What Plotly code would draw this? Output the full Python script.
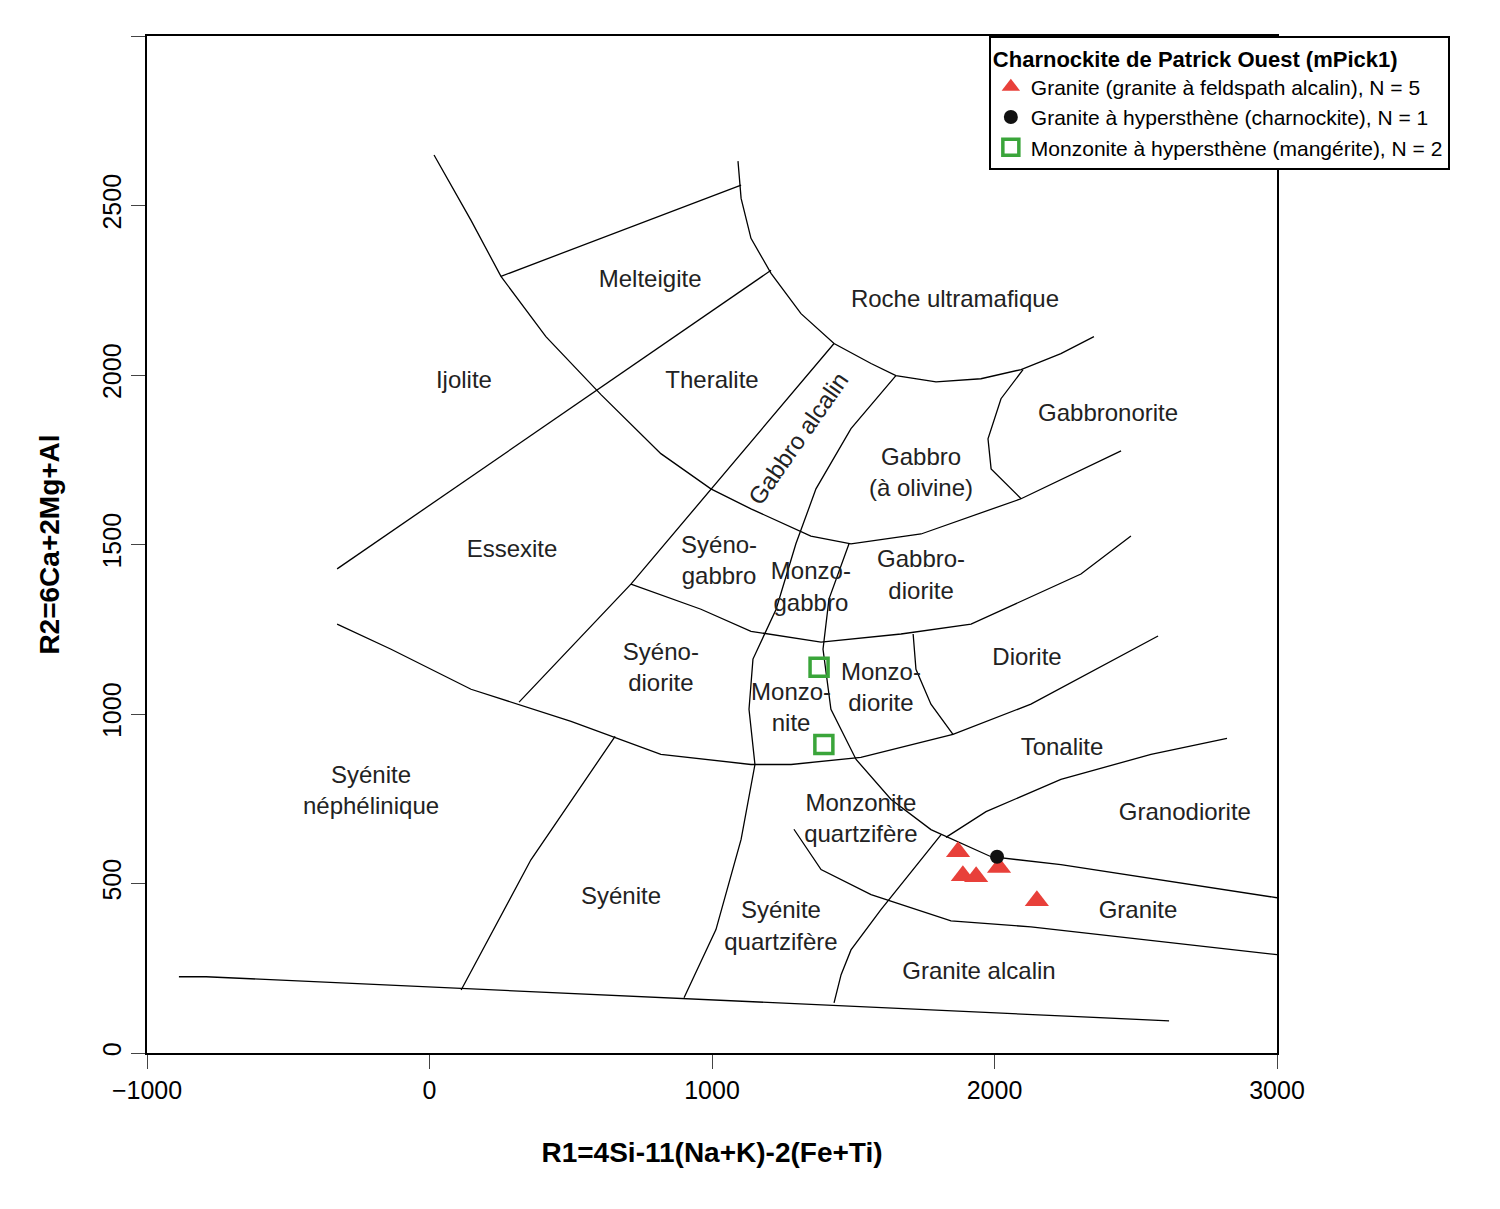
import plotly.graph_objects as go

# field boundaries (R1, R2)
boundaries = [
    ([-887, -791, 2618], [225, 225, 95]),
    ([16, 147, 253, 412, 607, 819, 996, 1138, 1350, 1492, 1740, 2094, 2448],
     [2649, 2456, 2291, 2113, 1942, 1768, 1664, 1605, 1525, 1502, 1531, 1635, 1776]),
    ([1092, 1103, 1138, 1209, 1315, 1432, 1563, 1651, 1793, 1952, 2094, 2235, 2352],
     [2631, 2521, 2403, 2300, 2181, 2093, 2034, 1998, 1980, 1989, 2016, 2063, 2113]),
    ([253, 1103], [2291, 2560]),
    ([-327, 1209], [1428, 2309]),
    ([1432, 713, 317], [2093, 1383, 1035]),
    ([1651, 1492, 1368, 1297, 1227, 1145, 1131, 1152, 1103, 1014, 901],
     [1998, 1842, 1664, 1502, 1309, 1162, 1014, 851, 630, 364, 163]),
    ([713, 961, 1138, 1386, 1669, 1917, 2306, 2483],
     [1383, 1309, 1244, 1212, 1236, 1265, 1413, 1525]),
    ([1485, 1414, 1393, 1421, 1510, 1634, 1775, 1988, 2235, 3000],
     [1502, 1339, 1191, 1014, 866, 748, 659, 579, 556, 458]),
    ([1712, 1722, 1775, 1853], [1236, 1132, 1029, 940]),
    ([-327, -136, 147, 501, 819, 1138, 1280, 1527, 1853, 2129, 2579],
     [1265, 1191, 1073, 978, 881, 851, 851, 872, 940, 1029, 1230]),
    ([1828, 1970, 2235, 2554, 2823], [636, 712, 807, 881, 928]),
    ([657, 359, 112], [934, 570, 186]),
    ([1290, 1386, 1563, 1846, 2129, 3000], [660, 541, 467, 390, 372, 290]),
    ([1811, 1598, 1492, 1457, 1432], [644, 423, 304, 231, 148]),
    ([2101, 2023, 1977, 1988, 2094], [2016, 1930, 1812, 1723, 1635]),
]

field_names = ["Melteigite", "Roche ultramafique", "Ijolite", "Theralite", "Gabbronorite",
               "Gabbro<br>(à olivine)", "Essexite", "Syéno-<br>gabbro", "Monzo-<br>gabbro",
               "Gabbro-<br>diorite", "Diorite", "Syéno-<br>diorite", "Monzo-<br>nite",
               "Monzo-<br>diorite", "Tonalite", "Syénite<br>néphélinique",
               "Monzonite<br>quartzifère", "Granodiorite", "Syénite", "Syénite<br>quartzifère",
               "Granite", "Granite alcalin"]
field_x = [781, 1860, 122, 1000, 2402, 1740, 292, 1025, 1350, 1740, 2115, 819, 1280,
           1598, 2239, -207, 1527, 2674, 678, 1244, 2508, 1945]
field_y = [2276, 2217, 1980, 1980, 1883, 1706, 1481, 1448, 1369, 1404, 1162, 1132, 1014,
           1073, 896, 769, 686, 706, 458, 369, 417, 236]

granite_r1 = [1871, 1888, 1935, 2016, 2150]
granite_r2 = [594, 523, 520, 547, 449]
charno_r1 = [2009]
charno_r2 = [579]
mang_r1 = [1379, 1396]
mang_r2 = [1138, 910]

fig = go.Figure()
for bx, by in boundaries:
    fig.add_trace(go.Scatter(x=bx, y=by, mode="lines", line=dict(color="black", width=1.3),
                             showlegend=False, hoverinfo="skip"))

fig.add_trace(go.Scatter(x=field_x, y=field_y, mode="text", text=field_names,
                         textfont=dict(size=24, color="#222"), showlegend=False))
fig.add_annotation(x=1305, y=1812, text="Gabbro alcalin", textangle=-55, showarrow=False,
                   font=dict(size=24, color="#222"))

fig.add_trace(go.Scatter(x=granite_r1, y=granite_r2, mode="markers",
                         name="Granite (granite à feldspath alcalin), N = 5",
                         marker=dict(symbol="triangle-up", size=21, color="#e8403a")))
fig.add_trace(go.Scatter(x=charno_r1, y=charno_r2, mode="markers",
                         name="Granite à hypersthène (charnockite), N = 1",
                         marker=dict(symbol="circle", size=14, color="#111")))
fig.add_trace(go.Scatter(x=mang_r1, y=mang_r2, mode="markers",
                         name="Monzonite à hypersthène (mangérite), N = 2",
                         marker=dict(symbol="square-open", size=18, color="#3aa53a",
                                     line=dict(width=3.5))))

fig.update_layout(
    width=1500, height=1209,
    paper_bgcolor="white", plot_bgcolor="white",
    margin=dict(l=139, r=231, t=28, b=164),
    font=dict(family="Liberation Sans, Arial", size=25, color="black"),
    xaxis=dict(range=[-1000, 3000], tickvals=[-1000, 0, 1000, 2000, 3000],
               showgrid=False, zeroline=False, showline=True, mirror=True,
               linecolor="black", linewidth=1.5, ticks="outside", ticklen=14,
               title=dict(text="<b>R1=4Si-11(Na+K)-2(Fe+Ti)</b>", standoff=40,
                          font=dict(size=28))),
    yaxis=dict(range=[0, 3000], tickvals=[0, 500, 1000, 1500, 2000, 2500, 3000],
               tickangle=-90,
               showgrid=False, zeroline=False, showline=True, mirror=True,
               linecolor="black", linewidth=1.5, ticks="outside", ticklen=14,
               title=dict(text="<b>R2=6Ca+2Mg+Al</b>", standoff=30, font=dict(size=28))),
    legend=dict(x=0.745, y=1.0, xanchor="left", yanchor="top",
                bgcolor="white", bordercolor="black", borderwidth=2,
                font=dict(size=21),
                title=dict(text="<b>Charnockite de Patrick Ouest (mPick1)</b>",
                           font=dict(size=22))),
)

fig.write_html("out.html")
